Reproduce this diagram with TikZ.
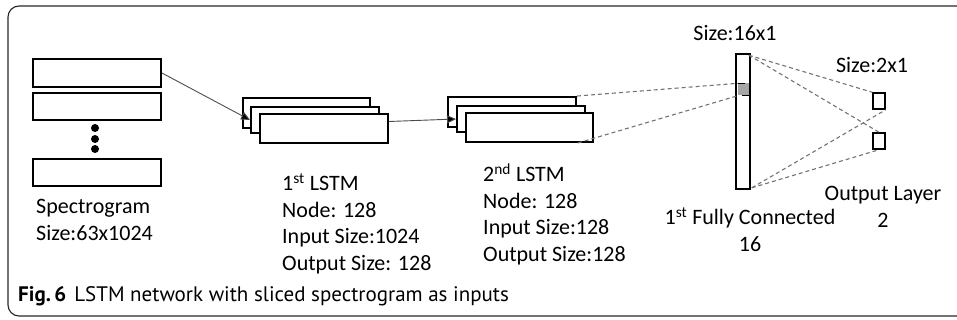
\documentclass[tikz,border=0pt]{standalone}
\usepackage{fontspec}
\setmainfont{Carlito}
\newfontfamily\capfont{PT Sans}
\usetikzlibrary{arrows.meta}
\begin{document}
\begin{tikzpicture}[x=1pt,y=-1pt,
  layer/.style={draw=black,line width=1.9pt,fill=white,inner sep=0pt},
  link/.style={draw=black!70,line width=0.9pt,-{Triangle[length=9pt,width=8pt,fill=black]}},
  fcline/.style={draw=black!55,line width=1.1pt,dash pattern=on 4pt off 3pt},
  lbl/.style={font=\fontsize{22}{26.5}\selectfont,inner sep=0pt,align=left},
  clbl/.style={font=\fontsize{22}{27}\selectfont,inner sep=0pt,align=center}]
\useasboundingbox (0,0) rectangle (957,320);
\clip (0,0) rectangle (957,320);
% outer frame
\draw[black!85,line width=1.1pt,rounded corners=11pt] (8,6) rectangle (990,316);

% spectrogram slices
\node[layer,minimum width=128pt,minimum height=28pt] (s1) at (97,73) {};
\node[layer,minimum width=128pt,minimum height=27pt] (s2) at (97,106.5) {};
\node[layer,minimum width=128pt,minimum height=27pt] (s3) at (97,172.5) {};
\foreach \yy/\nm in {128/d1,139/d2,149/d3}
  \node[circle,fill=black,minimum size=8pt,inner sep=0pt] (\nm) at (95,\yy) {};

% first LSTM stack
\node[layer,minimum width=127pt,minimum height=30pt] (l1a) at (306.5,113) {};
\node[layer,minimum width=128pt,minimum height=26pt] (l1b) at (315,120) {};
\node[layer,minimum width=128pt,minimum height=29pt] (l1c) at (324,128.5) {};

% second LSTM stack
\node[layer,minimum width=128pt,minimum height=30pt] (l2a) at (512,112) {};
\node[layer,minimum width=128pt,minimum height=26pt] (l2b) at (521,119) {};
\node[layer,minimum width=127pt,minimum height=29pt] (l2c) at (529.5,127.5) {};

% fully connected layer and output layer
\node[layer,line width=1.6pt,minimum width=14pt,minimum height=135pt] (fc) at (743,121.5) {};
\node[fill=black!35,minimum width=11pt,minimum height=12pt,inner sep=0pt] (fcg) at (743.5,89.5) {};
\draw[black,line width=1.5pt] (fcg.north west) -- ([xshift=-4pt]fcg.north east);
\draw[black,line width=1.5pt] ([xshift=4pt]fcg.south west) -- (fcg.south east);
\node[layer,line width=1.5pt,minimum width=12pt,minimum height=16pt] (o1) at (879,101) {};
\node[layer,line width=1.5pt,minimum width=12pt,minimum height=16pt] (o2) at (879,141) {};

% connectors
\draw[link] (s1.east) -- (l1b.west);
\draw[link] ([yshift=7pt]l1c.east) -- (l2b.west);
\draw[fcline] (l2a.north east) -- (fcg.north west);
\draw[fcline] ([xshift=-16pt]l2c.south east) -- (fcg.south west);
\draw[fcline] ([xshift=-2pt,yshift=-2pt]fc.north east) -- (o1.north west);
\draw[fcline] ([xshift=-2pt,yshift=-2pt]fc.north east) -- (o2.north);
\draw[fcline] ([xshift=1pt,yshift=2pt]fc.south east) -- (o1.south east);
\draw[fcline] ([xshift=1pt,yshift=2pt]fc.south east) -- (o2.south);

% labels
\node[lbl,anchor=west] (tspec) at (36,220) {Spectrogram\\Size:63x1024};
\node[lbl,anchor=west] (tl1) at (282,223.5) {1\textsuperscript{st} LSTM\\Node: 128\\Input Size:1024\\Output Size: 128};
\node[lbl,anchor=west] (tl2) at (483,214) {2\textsuperscript{nd} LSTM\\Node: 128\\Input Size:128\\Output Size:128};
\node[clbl] (tfcs) at (735,33) {Size:16x1};
\node[clbl] (tos) at (872,65) {Size:2x1};
\node[clbl] (tfc) at (750,229.5) {1\textsuperscript{st} Fully Connected\\16};
\node[clbl] (tout) at (883,207) {Output Layer\\2};

% caption
\node[anchor=west,inner sep=0pt,font=\capfont\fontsize{21}{25}\selectfont] (cap) at (18,296) {\textbf{Fig.\,6}\hspace{8pt}LSTM network with sliced spectrogram as inputs};
\end{tikzpicture}
\end{document}
